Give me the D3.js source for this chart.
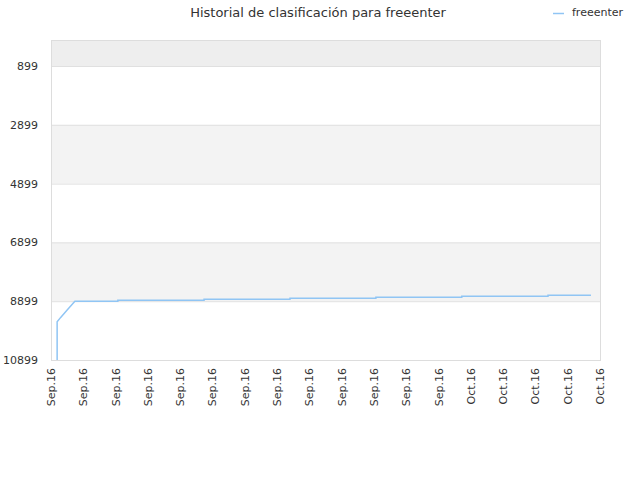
<!DOCTYPE html>
<html><head><meta charset="utf-8">
<script src="https://cdn.jsdelivr.net/npm/d3@7"></script>
<style>body{margin:0;background:#fff}text{font-family:"DejaVu Sans",sans-serif}</style>
</head><body><div id="chart"></div>
<script>
const tickLabels = ["Sep.16","Sep.16","Sep.16","Sep.16","Sep.16","Sep.16","Sep.16","Sep.16","Sep.16","Sep.16","Sep.16","Sep.16","Sep.16","Oct.16","Oct.16","Oct.16","Oct.16","Oct.16"];
const yTicks = [899, 2899, 4899, 6899, 8899, 10899];
// position along the x axis (in tick units) and rank
const posT = [0.19, 0.19, 0.3, 0.5, 0.74, 2.07, 2.07, 4.74, 4.74, 7.4, 7.4, 10.06, 10.06, 12.72, 12.72, 15.39, 15.39, 16.72];
const rank = [10899, 9600, 9450, 9200, 8899, 8899, 8865, 8865, 8830, 8830, 8800, 8800, 8765, 8765, 8730, 8730, 8700, 8700];

const width = 640, height = 480;
const m = {left: 51, right: 600, top: 40, bottom: 360};
const svg = d3.select("#chart").append("svg").attr("width", width).attr("height", height);

const x = d3.scaleLinear().domain([0, tickLabels.length - 1]).range([m.left, m.right]);
const y = d3.scaleLinear().domain([15, 10899]).range([m.top, m.bottom]);

// background bands
const bands = [[15, 899, "#eeeeee"], [2899, 4899, "#f3f3f3"], [6899, 8899, "#f3f3f3"]];
svg.append("g").selectAll("rect").data(bands).enter().append("rect")
	.attr("x", m.left).attr("width", m.right - m.left)
	.attr("y", d => y(d[0])).attr("height", d => y(d[1]) - y(d[0]))
	.attr("fill", d => d[2]);

// grid lines
svg.append("g").selectAll("line").data(yTicks).enter().append("line")
	.attr("x1", m.left).attr("x2", m.right)
	.attr("y1", d => y(d) + 0.5).attr("y2", d => y(d) + 0.5)
	.attr("stroke", "#e0e0e0");

svg.append("rect").attr("x", m.left + 0.5).attr("y", m.top + 0.5)
	.attr("width", m.right - m.left).attr("height", m.bottom - m.top)
	.attr("fill", "none").attr("stroke", "#dddddd");

// y labels
svg.append("g").selectAll("text").data(yTicks).enter().append("text")
	.attr("x", m.left - 13).attr("y", d => y(d) + 4)
	.attr("text-anchor", "end").attr("font-size", 11).attr("fill", "#333")
	.text(d => d);

// x labels
svg.append("g").selectAll("text").data(tickLabels).enter().append("text")
	.attr("transform", (d, i) => `translate(${x(i) + 4},${m.bottom + 8}) rotate(-90)`)
	.attr("text-anchor", "end").attr("font-size", 11).attr("fill", "#333")
	.text(d => d);

// line
const pts = posT.map((t, i) => [t, rank[i]]);
svg.append("path").datum(pts)
	.attr("fill", "none").attr("stroke", "#90c5f4").attr("stroke-width", 1.5)
	.attr("d", d3.line().x(d => x(d[0])).y(d => y(d[1])));

// title
svg.append("text").attr("x", 318).attr("y", 17).attr("text-anchor", "middle")
	.attr("font-size", 13).attr("fill", "#333").text("Historial de clasificación para freeenter");

// legend
svg.append("line").attr("x1", 553).attr("x2", 564).attr("y1", 13.5).attr("y2", 13.5)
	.attr("stroke", "#90c5f4").attr("stroke-width", 1.5);
svg.append("text").attr("x", 572).attr("y", 16).attr("font-size", 11).attr("fill", "#333").text("freeenter");
</script></body></html>
